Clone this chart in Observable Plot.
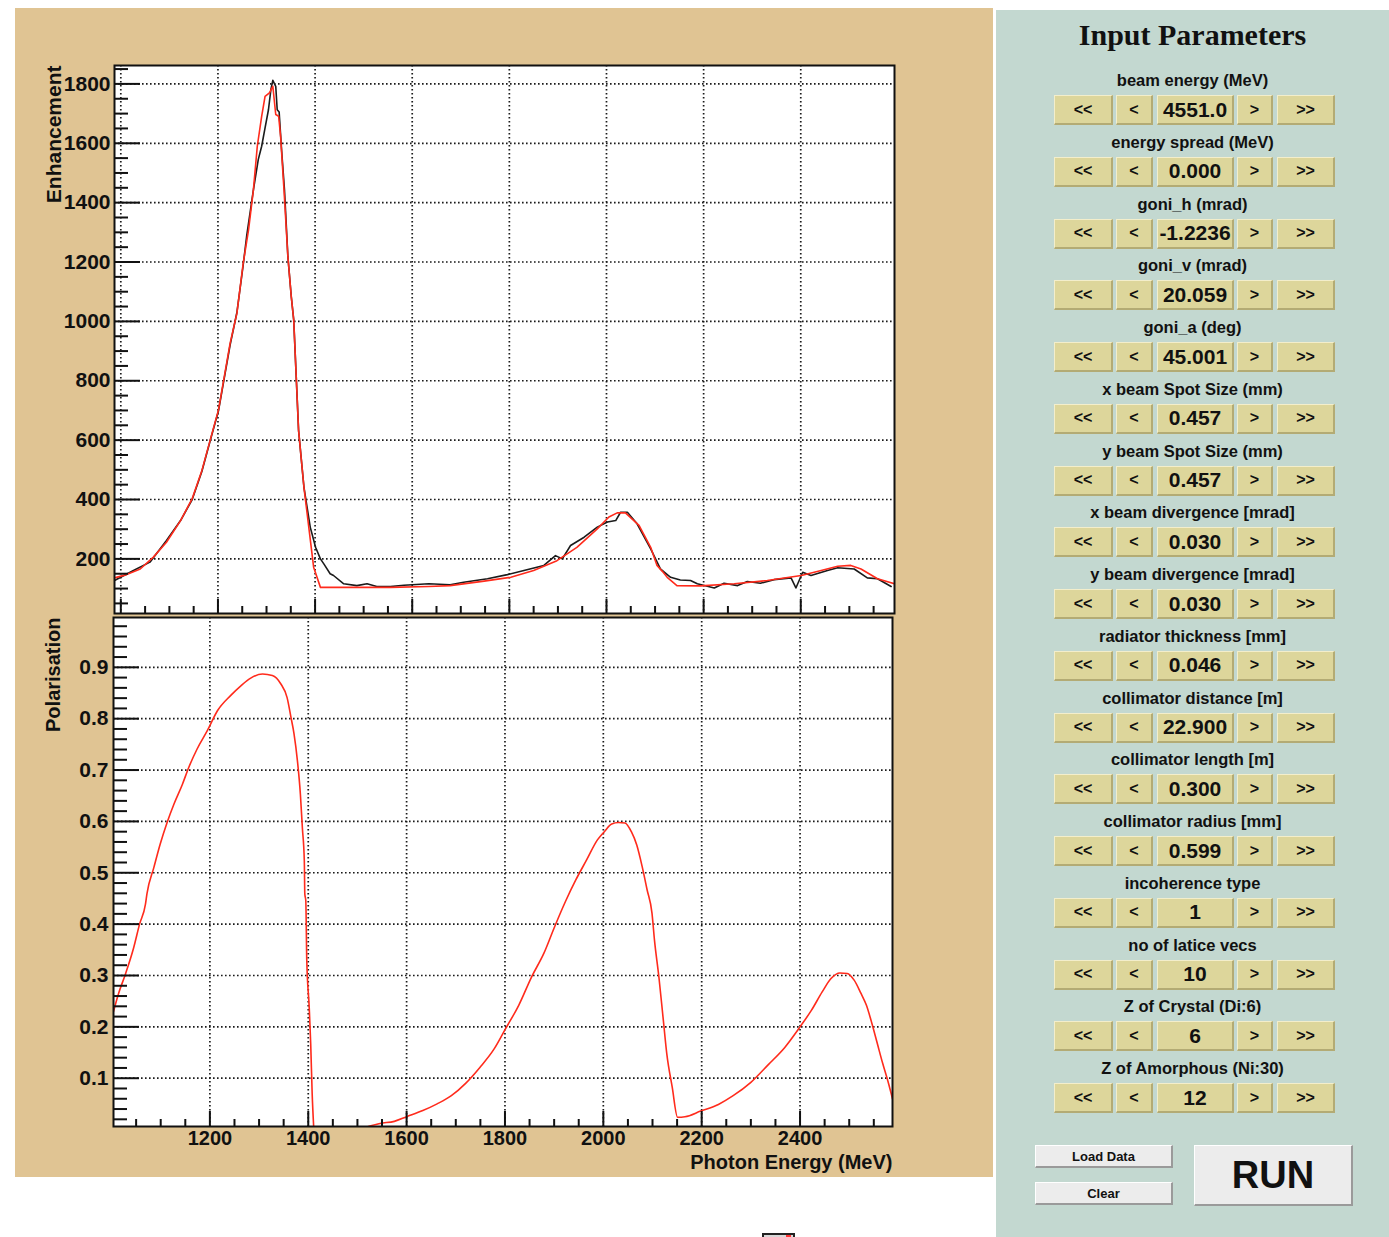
<!DOCTYPE html>
<html>
<head>
<meta charset="utf-8">
<script src="https://cdn.jsdelivr.net/npm/d3@7"></script>
<script src="https://cdn.jsdelivr.net/npm/@observablehq/plot@0.6"></script>
<style>
  html, body { margin: 0; padding: 0; background: #ffffff; }
  body { width: 1389px; height: 1237px; position: relative; overflow: hidden; font-family: 'Liberation Sans', Arial, Helvetica, sans-serif; }
  .abs { position: absolute; }
  #tan { left: 15px; top: 8px; width: 978px; height: 1169px; background: #e0c493; }
  #topPlot { left: 15px; top: 8px; }
  #botPlot { left: 15px; top: 614px; }
  #panel { left: 996px; top: 10px; width: 393px; height: 1227px; background: #c3d8d0; }
  #title { left: 0; width: 393px; top: 8px; text-align: center; font-family: 'Liberation Serif', 'Times New Roman', serif; font-weight: bold; font-size: 30px; line-height: 34px; color: #111; }
  .plabel { left: 0; width: 393px; text-align: center; font-weight: bold; font-size: 16.5px; line-height: 20px; color: #111; }
  .btn { box-sizing: border-box; height: 30px; background: #ddd69b; border-top: 1px solid #f3eecb; border-left: 1px solid #f3eecb; border-right: 2px solid #b3ab74; border-bottom: 2px solid #b3ab74; display: flex; align-items: center; justify-content: center; font-weight: bold; color: #111; }
  .arrow { font-size: 16px; }
  .val { font-size: 21px; }
  .gbtn { box-sizing: border-box; background: #ececec; border-top: 1px solid #ffffff; border-left: 1px solid #ffffff; border-right: 2px solid #9a9a9a; border-bottom: 2px solid #9a9a9a; display: flex; align-items: center; justify-content: center; font-weight: bold; color: #111; }
</style>
</head>
<body>
<div id="tan" class="abs"></div>
<div id="topPlot" class="abs"></div>
<div id="botPlot" class="abs"></div>
<div id="panel" class="abs"></div>
<div class="abs" style="left:762px;top:1233px;width:29px;height:8px;border:2px solid #222;background:#d8d8d8;"><div style="position:absolute;right:2px;top:0;width:5px;height:3px;background:#f33;"></div></div>
<script>
// ---------------- DATA ----------------
// Top pad: enhancement vs photon energy (MeV)
const dataEnergy = [987,1026,1060,1094,1123,1147,1167,1184,1201,1225,1239,1252,1259,1273,1283,1290,1297,1304,1309,1313,1319,1322,1326,1331,1337,1344,1351,1356,1366,1377,1390,1401,1411,1418,1431,1438,1459,1486,1507,1527,1555,1583,1634,1678,1706,1755,1796,1830,1871,1895,1909,1926,1954,1981,2002,2019,2029,2043,2063,2091,2111,2132,2152,2173,2187,2222,2242,2270,2290,2317,2345,2380,2390,2404,2421,2455,2476,2510,2537,2558,2586];
const dataEnhancement = [127,161,189,262,329,400,495,598,698,920,1030,1190,1286,1443,1545,1590,1652,1713,1781,1812,1792,1713,1705,1578,1443,1218,1083,1005,633,442,307,239,200,183,150,144,116,110,116,107,107,111,116,113,121,133,147,161,178,211,200,245,273,307,324,329,357,357,318,234,166,138,129,127,116,102,118,110,124,118,130,136,102,155,144,161,170,166,136,133,107];

const fitEnergy = [987,1012,1040,1067,1094,1123,1147,1167,1184,1201,1225,1239,1252,1263,1273,1281,1290,1297,1306,1313,1319,1325,1329,1336,1344,1351,1356,1366,1377,1387,1397,1411,1555,1634,1678,1748,1803,1850,1898,1939,1981,2005,2022,2039,2067,2091,2104,2115,2125,2145,2194,2263,2331,2401,2442,2476,2503,2524,2558,2593];
const fitEnhancement = [136,147,166,206,256,329,403,498,600,701,926,1027,1196,1308,1443,1590,1691,1758,1770,1792,1697,1691,1623,1443,1218,1083,1005,633,442,307,172,104,104,107,110,125,138,161,194,239,301,341,355,355,313,239,178,158,138,110,109,116,127,144,161,175,178,166,133,116];

// Bottom pad: polarisation vs photon energy (MeV), two visible branches
const polEnergyA = [1004,1014,1028,1045,1057,1069,1072,1086,1099,1113,1127,1144,1157,1174,1195,1215,1242,1263,1283,1307,1327,1344,1357,1365,1371,1378,1384,1388,1392,1393,1395,1397,1402,1405,1408,1411];
const polValueA = [0.230,0.264,0.302,0.354,0.400,0.439,0.459,0.510,0.556,0.598,0.634,0.672,0.705,0.741,0.777,0.815,0.845,0.864,0.879,0.887,0.884,0.868,0.841,0.802,0.771,0.718,0.653,0.588,0.523,0.459,0.446,0.329,0.237,0.167,0.069,0.006];
const polEnergyB = [1522,1546,1575,1600,1633,1662,1691,1720,1749,1778,1801,1828,1854,1879,1901,1923,1944,1966,1988,2002,2017,2031,2044,2057,2068,2079,2089,2099,2104,2113,2122,2129,2140,2151,2166,2198,2234,2264,2300,2336,2369,2400,2423,2445,2463,2481,2496,2510,2524,2535,2546,2557,2568,2579,2588];
const polValueB = [0.006,0.012,0.016,0.025,0.037,0.050,0.066,0.090,0.121,0.157,0.196,0.242,0.297,0.343,0.395,0.444,0.486,0.525,0.564,0.580,0.595,0.598,0.597,0.580,0.554,0.512,0.467,0.421,0.369,0.297,0.213,0.148,0.083,0.024,0.025,0.036,0.049,0.066,0.092,0.127,0.160,0.200,0.232,0.268,0.294,0.305,0.304,0.291,0.265,0.242,0.207,0.168,0.129,0.093,0.060];

// Axes: domains and tick labels
const topXDomain = [987, 2593];
const topYDomain = [16, 1862];
const topXTicks = [1000,1200,1400,1600,1800,2000,2200,2400];
const topYTicks = [200,400,600,800,1000,1200,1400,1600,1800];
const botXDomain = [1004, 2588];
const botYDomain = [0.006, 0.997];
const botXTicks = [1200,1400,1600,1800,2000,2200,2400];
const botYTicks = [0.1,0.2,0.3,0.4,0.5,0.6,0.7,0.8,0.9];
const topXMinor = d3.range(1000, 2600, 50).filter(v => v % 200 !== 0);
const topYMinor = d3.range(50, 1862, 50).filter(v => v % 200 !== 0);
const botXMinor = d3.range(1050, 2588, 50).filter(v => v % 200 !== 0);
const botYMinor = d3.range(1, 50).map(i => i * 0.02).filter((v, i) => (i + 1) % 5 !== 0);

const yLabelTop = "Enhancement";
const yLabelBot = "Polarisation";
const xLabelBot = "Photon Energy (MeV)";

// Input panel
const paramLabels = ["beam energy (MeV)","energy spread (MeV)","goni_h (mrad)","goni_v (mrad)","goni_a (deg)","x beam Spot Size (mm)","y beam Spot Size (mm)","x beam divergence [mrad]","y beam divergence [mrad]","radiator thickness [mm]","collimator distance [m]","collimator length [m]","collimator radius [mm]","incoherence type","no of latice vecs","Z of Crystal (Di:6)","Z of Amorphous (Ni:30)"];
const paramValues = ["4551.0","0.000","-1.2236","20.059","45.001","0.457","0.457","0.030","0.030","0.046","22.900","0.300","0.599","1","10","6","12"];
const buttonTexts = ["<<","<",null,">",">>"];

// ---------------- DRAWING ----------------
const FONT = "'Liberation Sans', Arial, Helvetica, sans-serif";
const RED = "#ff2b1c";
const gridStyle = {stroke: "#1a1a1a", strokeOpacity: 1, strokeWidth: 1.7, strokeDasharray: "1.6,2.4"};
const axisStyle = {stroke: "#111", strokeWidth: 2, label: null};

const dataRows = dataEnergy.map((e, i) => ({E: e, v: dataEnhancement[i]}));
const fitRows = fitEnergy.map((e, i) => ({E: e, v: fitEnhancement[i]}));
const polRows = [
  ...polEnergyA.map((e, i) => ({E: e, P: polValueA[i], seg: "a"})),
  ...polEnergyB.map((e, i) => ({E: e, P: polValueB[i], seg: "b"}))
];

const topChart = Plot.plot({
  width: 880, height: 606,
  marginLeft: 99, marginRight: 1, marginTop: 57, marginBottom: 1,
  style: {background: "transparent", fontFamily: FONT, fontSize: "21px", fontWeight: "bold", color: "#111", overflow: "visible"},
  x: {domain: topXDomain, label: null},
  y: {domain: topYDomain, label: null},
  marks: [
    Plot.frame({fill: "white", stroke: null}),
    Plot.gridX(topXTicks, gridStyle),
    Plot.gridY(topYTicks, gridStyle),
    Plot.line(dataRows, {x: "E", y: "v", stroke: "#1b1b1b", strokeWidth: 1.6, clip: true}),
    Plot.line(fitRows, {x: "E", y: "v", stroke: RED, strokeWidth: 1.6, clip: true}),
    Plot.axisY(topYTicks, {...axisStyle, anchor: "left", tickSize: -26, tickPadding: 30, fontSize: 21, tickFormat: d => String(d)}),
    Plot.axisY(topYMinor, {...axisStyle, anchor: "left", tickSize: -14, fill: "none"}),
    Plot.axisX(topXTicks, {...axisStyle, anchor: "bottom", tickSize: -14, fill: "none"}),
    Plot.axisX(topXMinor, {...axisStyle, anchor: "bottom", tickSize: -7, fill: "none"}),
    Plot.text([yLabelTop], {text: d => d, frameAnchor: "top-left", rotate: -90, textAnchor: "end", dx: -68, fontSize: 21, fontWeight: "bold"}),
    Plot.frame({stroke: "#111", strokeWidth: 2})
  ]
});
document.getElementById("topPlot").appendChild(topChart);

const botChart = Plot.plot({
  width: 880, height: 563,
  marginLeft: 98, marginRight: 3, marginTop: 3, marginBottom: 51,
  style: {background: "transparent", fontFamily: FONT, fontSize: "20px", fontWeight: "bold", color: "#111", overflow: "visible"},
  x: {domain: botXDomain, label: null},
  y: {domain: botYDomain, label: null},
  marks: [
    Plot.frame({fill: "white", stroke: null}),
    Plot.gridX(botXTicks, gridStyle),
    Plot.gridY(botYTicks, gridStyle),
    Plot.line(polRows, {x: "E", y: "P", z: "seg", stroke: RED, strokeWidth: 1.6, curve: "monotone-x", clip: true}),
    Plot.axisY(botYTicks, {...axisStyle, anchor: "left", tickSize: -26, tickPadding: 31, fontSize: 21, tickFormat: d => d.toFixed(1)}),
    Plot.axisY(botYMinor, {...axisStyle, anchor: "left", tickSize: -14, fill: "none"}),
    Plot.axisX(botXTicks, {...axisStyle, anchor: "bottom", tickSize: -15, tickPadding: 19, tickFormat: d => String(d)}),
    Plot.axisX(botXMinor, {...axisStyle, anchor: "bottom", tickSize: -7, fill: "none"}),
    Plot.text([yLabelBot], {text: d => d, frameAnchor: "top-left", rotate: -90, textAnchor: "end", dx: -68, fontSize: 20, fontWeight: "bold"}),
    Plot.text([xLabelBot], {text: d => d, frameAnchor: "bottom-right", textAnchor: "end", dy: 42, fontSize: 20, fontWeight: "bold"}),
    Plot.frame({stroke: "#111", strokeWidth: 2})
  ]
});
document.getElementById("botPlot").appendChild(botChart);

// ---------------- INPUT PANEL ----------------
const panel = document.getElementById("panel");
function el(cls, style, text) {
  const d = document.createElement("div");
  d.className = "abs " + cls;
  Object.assign(d.style, style);
  if (text != null) d.textContent = text;
  panel.appendChild(d);
  return d;
}
const t = el("", {}, "Input Parameters"); t.id = "title";
const cols = [[58, 59], [120, 37], [161, 77], [241, 36], [281, 58]];
paramLabels.forEach((lab, i) => {
  const yLab = 60 + i * 61.75;
  const yBtn = 85 + i * 61.75;
  el("plabel", {top: yLab + "px"}, lab);
  cols.forEach(([x, w], j) => {
    const txt = buttonTexts[j] == null ? paramValues[i] : buttonTexts[j];
    el("btn " + (buttonTexts[j] == null ? "val" : "arrow"), {left: x + "px", top: yBtn + "px", width: w + "px"}, txt);
  });
});
el("gbtn", {left: "39px", top: "1135px", width: "138px", height: "23px", fontSize: "13px"}, "Load Data");
el("gbtn", {left: "39px", top: "1172px", width: "138px", height: "23px", fontSize: "13px"}, "Clear");
el("gbtn", {left: "198px", top: "1135px", width: "159px", height: "61px", fontSize: "38px"}, "RUN");
</script>
</body>
</html>
